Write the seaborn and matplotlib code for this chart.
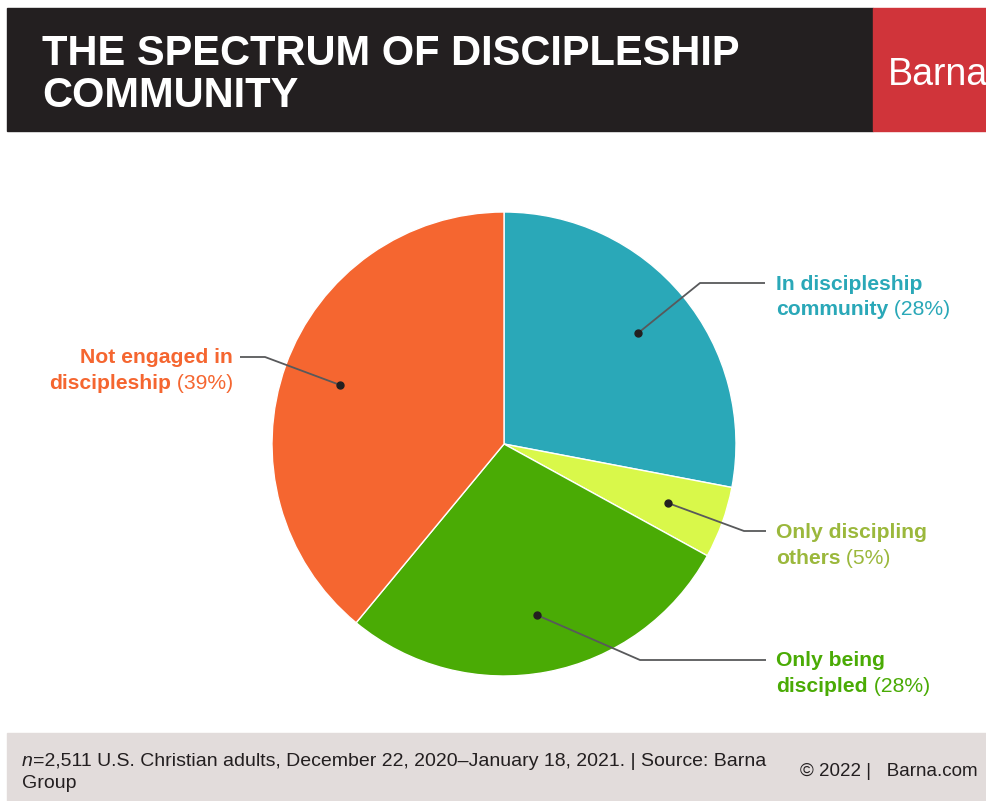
import matplotlib
matplotlib.use("Agg")
import matplotlib.pyplot as plt
from matplotlib.patches import Rectangle
import seaborn as sns
import numpy as np

# ---------------- data ----------------
categories = ["In discipleship community", "Only discipling others",
              "Only being discipled", "Not engaged in discipleship"]
values = [28, 5, 28, 39]
label_bold = [["In discipleship", "community"],
              ["Only discipling", "others"],
              ["Only being", "discipled"],
              ["Not engaged in", "discipleship"]]
pct_labels = ["(28%)", "(5%)", "(28%)", "(39%)"]
slice_colors = ["#2aa8b8", "#d9f84a", "#4aab05", "#f56630"]
text_colors = ["#2aa8b8", "#9bb83c", "#4aab05", "#f56630"]
title_lines = ["THE SPECTRUM OF DISCIPLESHIP", "COMMUNITY"]
brand = "Barna"
footnote_rest = "=2,511 U.S. Christian adults, December 22, 2020\u2013January 18, 2021. | Source: Barna"
footnote_line2 = "Group"
copyright_text = "\u00a9 2022 |   Barna.com"

# ---------------- style ----------------
sns.set_theme(style="white")
plt.rcParams['font.family'] = ['Liberation Sans', 'DejaVu Sans']

W, H = 987, 801
fig = plt.figure(figsize=(W / 100, H / 100), dpi=100)
fig.patch.set_facecolor("white")
ax = fig.add_axes([0, 0, 1, 1])

def Y(y):
    return H - y

# header
ax.add_patch(Rectangle((7, Y(131)), 866, 123, color="#231f20", zorder=1))
ax.add_patch(Rectangle((873, Y(131)), 120, 123, color="#d0343a", zorder=1))
ax.text(42, Y(65), title_lines[0], color="white", fontsize=30, fontweight="bold",
        ha="left", va="baseline", zorder=2)
ax.text(42, Y(107), title_lines[1], color="white", fontsize=30, fontweight="bold",
        ha="left", va="baseline", zorder=2)
ax.text(888, Y(85), brand, color="white", fontsize=27, ha="left", va="baseline",
        zorder=2, clip_on=True)

# footer
ax.add_patch(Rectangle((7, 0), 990, 801 - 733, color="#e2dcdb", zorder=1))

# pie
cx, cy, R = 504, Y(444), 232
wedges, _ = ax.pie(values, colors=slice_colors, startangle=90, counterclock=False,
                   center=(cx, cy), radius=R,
                   wedgeprops=dict(edgecolor="white", linewidth=1))
ax.set_xlim(0, W)
ax.set_ylim(0, H)
ax.set_aspect("equal")
ax.axis("off")

# label layout: (elbow x, label y (px from top), line end x, text x, side)
layout = [(700, 283, 765, 776, "right"),
          (744, 531, 766, 776, "right"),
          (640, 660, 766, 776, "right"),
          (265, 357, 240, 233, "left")]

fig.canvas.draw()
renderer = fig.canvas.get_renderer()
fs = 15.2
line_gap = 26

for w, (ex, ly, endx, tx, side), bold, pct, tc in zip(wedges, layout, label_bold,
                                                      pct_labels, text_colors):
    th = np.deg2rad((w.theta1 + w.theta2) / 2)
    dx, dy = cx + 0.75 * R * np.cos(th), cy + 0.75 * R * np.sin(th)
    ax.plot([dx, ex, endx], [dy, Y(ly), Y(ly)], color="#58595b", lw=1.3, zorder=4,
            solid_capstyle="butt")
    ax.plot([dx], [dy], "o", color="#231f20", ms=5, zorder=5)
    y1, y2 = Y(ly + 1), Y(ly + 1 + line_gap)
    if side == "right":
        ax.text(tx, y1, bold[0], color=tc, fontsize=fs, fontweight="bold",
                ha="left", va="center")
        t2 = ax.text(tx, y2, bold[1], color=tc, fontsize=fs, fontweight="bold",
                     ha="left", va="center")
        bb = t2.get_window_extent(renderer)
        ax.text(bb.x1, y2, " " + pct, color=tc, fontsize=fs, ha="left", va="center")
    else:
        ax.text(tx, y1, bold[0], color=tc, fontsize=fs, fontweight="bold",
                ha="right", va="center")
        tp = ax.text(tx, y2, " " + pct, color=tc, fontsize=fs, ha="right", va="center")
        bb = tp.get_window_extent(renderer)
        ax.text(bb.x0, y2, bold[1], color=tc, fontsize=fs, fontweight="bold",
                ha="right", va="center")

# footnote text
ffs = 14
tn = ax.text(22, Y(761), "n", color="#231f20", fontsize=ffs, style="italic",
             ha="left", va="center", zorder=2)
bb = tn.get_window_extent(renderer)
ax.text(bb.x1, Y(761), footnote_rest, color="#231f20", fontsize=ffs,
        ha="left", va="center", zorder=2)
ax.text(22, Y(783), footnote_line2, color="#231f20", fontsize=ffs,
        ha="left", va="center", zorder=2)
ax.text(800, Y(772), copyright_text, color="#231f20", fontsize=13.5,
        ha="left", va="center", zorder=2)

fig.savefig("out.png", dpi=100, facecolor="white")
